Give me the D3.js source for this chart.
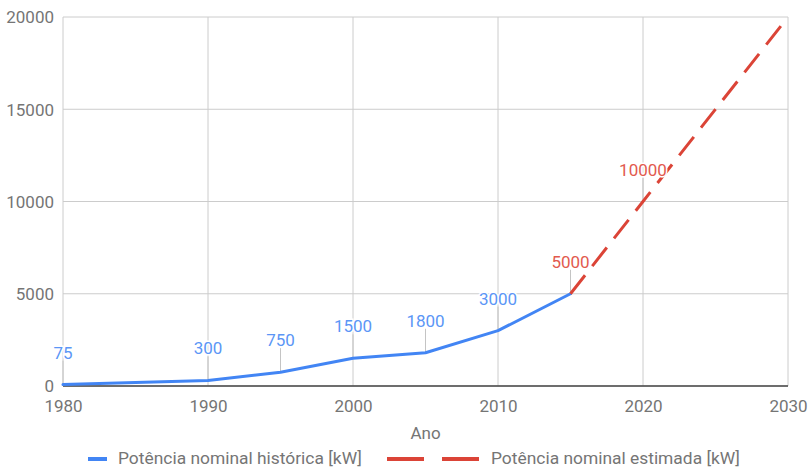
<!DOCTYPE html>
<html>
<head>
<meta charset="utf-8">
<script src="https://cdn.jsdelivr.net/npm/d3@7"></script>
<style>
  html, body { margin: 0; padding: 0; background: #fff; }
  svg { display: block; font-family: Roboto, "Noto Sans", sans-serif; }
</style>
</head>
<body>
<svg id="chart" width="811" height="467"></svg>
<script>
// Rated power of wind turbines over time
const histYears = [1980, 1990, 1995, 2000, 2005, 2010, 2015];
const histValues = [75, 300, 750, 1500, 1800, 3000, 5000];
const histLabeled = [true, true, true, true, true, true, false];

const estYears = [2015, 2020, 2030];
const estValues = [5000, 10000, 20000];
const estLabeled = [true, true, false];

const xTicks = [1980, 1990, 2000, 2010, 2020, 2030];
const yTicks = [0, 5000, 10000, 15000, 20000];

const seriesNames = ["Potência nominal histórica [kW]", "Potência nominal estimada [kW]"];
const xTitle = "Ano";

const blue = "#4285f4", red = "#db4437";
const blueLabel = "#5b96f6", redLabel = "#e25a4e";
const tickColor = "#757575";

const svg = d3.select("#chart");
const plotLeft = 63, plotRight = 788, plotTop = 17, plotBottom = 386;

const x = d3.scaleLinear().domain([1980, 2030]).range([plotLeft, plotRight]);
const y = d3.scaleLinear().domain([0, 20000]).range([plotBottom, plotTop]);

// gridlines
svg.append("g").selectAll("line").data(yTicks).join("line")
  .attr("x1", plotLeft).attr("x2", plotRight)
  .attr("y1", d => y(d)).attr("y2", d => y(d))
  .attr("stroke", "#cccccc").attr("stroke-width", 1);
svg.append("g").selectAll("line").data(xTicks).join("line")
  .attr("x1", d => x(d)).attr("x2", d => x(d))
  .attr("y1", plotTop).attr("y2", plotBottom)
  .attr("stroke", "#cccccc").attr("stroke-width", 1);

// axes (labels only)
const yAxis = svg.append("g").attr("transform", `translate(${plotLeft - 9},0)`)
  .call(d3.axisLeft(y).tickValues(yTicks).tickSize(0).tickFormat(d3.format("d")));
yAxis.select(".domain").remove();
yAxis.selectAll("text").attr("fill", tickColor).attr("font-size", 17)
  .attr("font-family", "Roboto").attr("x", 0).attr("dy", "0.35em");

const xAxis = svg.append("g").attr("transform", `translate(0,${plotBottom + 11})`)
  .call(d3.axisBottom(x).tickValues(xTicks).tickSize(0).tickFormat(d3.format("d")));
xAxis.select(".domain").remove();
xAxis.selectAll("text").attr("fill", tickColor).attr("font-size", 17)
  .attr("font-family", "Roboto").attr("dy", "0.71em");

// baseline
svg.append("line").attr("x1", plotLeft).attr("x2", plotRight)
  .attr("y1", y(0)).attr("y2", y(0)).attr("stroke", "#444").attr("stroke-width", 1.3);

svg.append("text").attr("x", (plotLeft + plotRight) / 2).attr("y", 439)
  .attr("text-anchor", "middle").attr("font-size", 17).attr("fill", tickColor)
  .text(xTitle);

const hist = histYears.map((d, i) => ({ x: d, y: histValues[i], lab: histLabeled[i], c: blueLabel }));
const est = estYears.map((d, i) => ({ x: d, y: estValues[i], lab: estLabeled[i], c: redLabel }));

// annotation stems
const labeled = hist.concat(est).filter(d => d.lab);
svg.append("g").selectAll("line").data(labeled).join("line")
  .attr("x1", d => x(d.x)).attr("x2", d => x(d.x))
  .attr("y1", d => y(d.y)).attr("y2", d => y(d.y) - 24)
  .attr("stroke", "#c4c4c4").attr("stroke-width", 1);

// lines
svg.append("path").datum(hist)
  .attr("d", d3.line().x(d => x(d.x)).y(d => y(d.y)))
  .attr("fill", "none").attr("stroke", blue).attr("stroke-width", 3)
  .attr("stroke-linejoin", "round").attr("stroke-linecap", "round");

const estPath = svg.append("path").datum(est)
  .attr("d", d3.line().x(d => x(d.x)).y(d => y(d.y)))
  .attr("fill", "none").attr("stroke", red).attr("stroke-width", 3);
// ten dash periods along the projection, so it starts on a dash and ends on a gap
const period = estPath.node().getTotalLength() / 10;
estPath.attr("stroke-dasharray", `${(period * 0.67).toFixed(2)},${(period * 0.33).toFixed(2)}`);

// annotation labels
svg.append("g").selectAll("text").data(labeled).join("text")
  .attr("x", d => x(d.x)).attr("y", d => y(d.y) - 26)
  .attr("text-anchor", "middle").attr("font-size", 17)
  .attr("fill", d => d.c)
  .attr("stroke", "#fff").attr("stroke-width", 3).attr("paint-order", "stroke")
  .text(d => d3.format("d")(d.y));

// legend
const lg = svg.append("g");
lg.append("line").attr("x1", 88).attr("x2", 107).attr("y1", 459).attr("y2", 459)
  .attr("stroke", blue).attr("stroke-width", 4);
lg.append("text").attr("x", 118).attr("y", 464).attr("font-size", 17.4).attr("fill", tickColor)
  .text(seriesNames[0]);
lg.append("line").attr("x1", 387).attr("x2", 480).attr("y1", 459).attr("y2", 459)
  .attr("stroke", red).attr("stroke-width", 4).attr("stroke-dasharray", "37,18");
lg.append("text").attr("x", 491).attr("y", 464).attr("font-size", 17.4).attr("fill", tickColor)
  .text(seriesNames[1]);
</script>
</body>
</html>
